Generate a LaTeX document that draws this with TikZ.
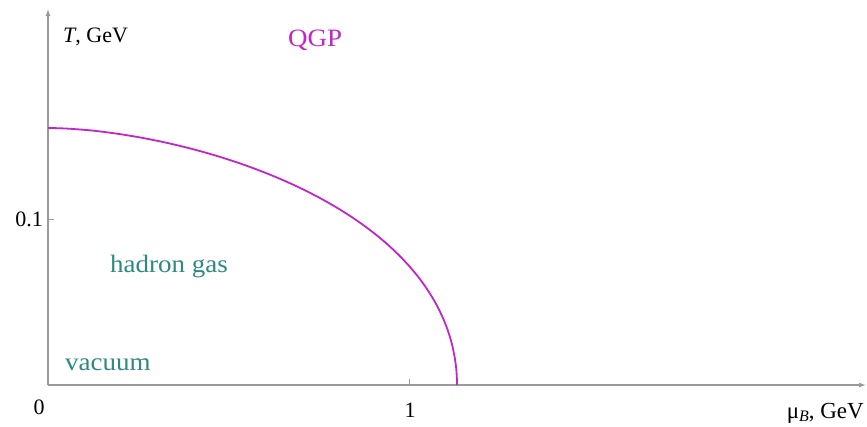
\documentclass[tikz,border=0pt]{standalone}
\usepackage{fontspec}
\setmainfont{Liberation Serif}
\usetikzlibrary{arrows.meta}
\definecolor{axisgrey}{HTML}{9A9A9A}
\definecolor{qgpmag}{HTML}{C026C8}
\definecolor{hadteal}{HTML}{2E8A80}
\tikzset{
  axisline/.style={draw=axisgrey, line width=1.3pt, -{Latex[length=7pt,width=5pt]}},
  tickline/.style={draw=axisgrey, line width=1pt},
  lbl/.style={font=\fontsize{22}{25}\selectfont, inner sep=0pt, text=black},
  phase/.style={font=\fontsize{25}{28}\selectfont, inner sep=0pt, xscale=1.08},
  boundary/.style={draw=qgpmag, line width=1.8pt, line join=round}
}
\begin{document}
\begin{tikzpicture}[x=1pt,y=-1pt]
\useasboundingbox (0,0) rectangle (867,426);
\fill[white] (0,0) rectangle (867,426);
\coordinate (O) at (48,385);
\coordinate (ytop) at (48,9);
\coordinate (xend) at (866,385);
\coordinate (ty) at (54,219);
\coordinate (ty0) at (48,219);
\coordinate (tx) at (409,379);
\coordinate (tx0) at (409,385);
\draw[axisline] (O) -- (ytop);
\draw[axisline] (O) -- (xend);
\draw[tickline] (ty0) -- (ty);
\draw[tickline] (tx0) -- (tx);
\draw[boundary] plot[domain=0:90, samples=150, variable=\t]
  ({48+409*(max(cos(\t),0.0001))^(2/(1.75+0.35*(1-sin(\t))))}, {385-257*sin(\t)});
\node[lbl, anchor=base west] (Tlab) at (63,42) {\textit{T}, GeV};
\node[lbl, anchor=base east] (t01) at (43,226) {0.1};
\node[lbl, anchor=base] (t0) at (39,414) {0};
\node[lbl, anchor=base] (t1) at (410,417) {1};
\node[lbl, font=\fontsize{23}{26}\selectfont, anchor=base east] (mulab) at (864,418) {μ\raisebox{-0.3ex}{\fontsize{16}{16}\selectfont\itshape B}, GeV};
\node[phase, text=qgpmag, anchor=base west] (qgp) at (288,46) {QGP};
\node[phase, text=hadteal, anchor=base west] (had) at (110,272) {hadron gas};
\node[phase, text=hadteal, anchor=base west] (vac) at (65,370) {vacuum};
\end{tikzpicture}
\end{document}
